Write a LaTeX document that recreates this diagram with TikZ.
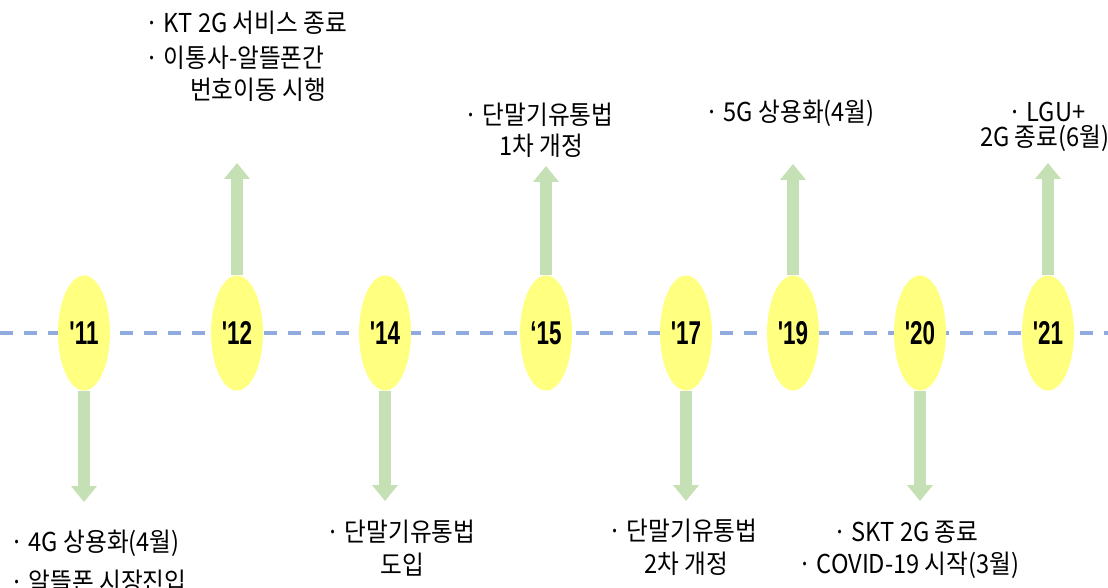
\documentclass[tikz,border=0pt]{standalone}
\usepackage{fontspec}
\usetikzlibrary{shapes.geometric,arrows.meta}
\newfontfamily\kr{Noto Sans CJK KR}[FakeStretch=0.91]
\newfontfamily\yr{Liberation Sans Bold}[FakeStretch=0.68]
\definecolor{ellfill}{RGB}{255,255,128}
\definecolor{arrgreen}{RGB}{197,224,180}
\definecolor{dashblue}{RGB}{143,170,220}
\tikzset{
  yearnode/.style={ellipse,fill=ellfill,minimum width=52pt,minimum height=115pt,inner sep=0pt,font=\yr\fontsize{33}{33}\selectfont},
  evarrow/.style={draw=arrgreen,line width=12pt,-{Triangle[width=25pt,length=16pt,fill=arrgreen]}},
  txt/.style={inner sep=0pt,font=\kr\fontsize{26}{26}\selectfont},
  timeline/.style={draw=dashblue,line width=4pt,dash pattern=on 13pt off 11pt}
}
\begin{document}
\begin{tikzpicture}[x=1pt,y=-1pt]
\useasboundingbox (0,0) rectangle (1108,588);
\coordinate (L0) at (0,333);
\coordinate (L1) at (1108,333);
\draw[timeline] (L0) -- (L1);
% years
\node[yearnode] (y11) at (84,333) {'11};
\node[yearnode] (y12) at (237,333) {'12};
\node[yearnode] (y14) at (385,333) {'14};
\node[yearnode] (y15) at (546,333) {‘15};
\node[yearnode] (y17) at (686,333) {'17};
\node[yearnode] (y19) at (793,333) {'19};
\node[yearnode] (y20) at (920,333) {'20};
\node[yearnode] (y21) at (1048,333) {'21};
% arrow ends
\coordinate (a11) at (84,502);
\coordinate (a12) at (237,163);
\coordinate (a14) at (385,501);
\coordinate (a15) at (546,166);
\coordinate (a17) at (686,501);
\coordinate (a19) at (793,164);
\coordinate (a20) at (920,501);
\coordinate (a21) at (1048,163);
\draw[evarrow] (y11.south) -- (a11);
\draw[evarrow] (y12.north) -- (a12);
\draw[evarrow] (y14.south) -- (a14);
\draw[evarrow] (y15.north) -- (a15);
\draw[evarrow] (y17.south) -- (a17);
\draw[evarrow] (y19.north) -- (a19);
\draw[evarrow] (y20.south) -- (a20);
\draw[evarrow] (y21.north) -- (a21);
% texts top
\node[txt,anchor=base west] (t12a) at (145,33) {· KT 2G 서비스 종료};
\node[txt,anchor=base west] (t12b) at (145,68) {· 이통사-알뜰폰간};
\node[txt,anchor=base west] (t12c) at (190,100) {번호이동 시행};
\node[txt,anchor=base west] (t15a) at (464,125) {· 단말기유통법};
\node[txt,anchor=base] (t15b) at (541,156) {1차 개정};
\node[txt,anchor=base west] (t19a) at (705,122) {· 5G 상용화(4월)};
\node[txt,anchor=base west] (t21a) at (1008,122) {· LGU+};
\node[txt,anchor=base west] (t21b) at (980,147) {2G 종료(6월)};
% texts bottom
\node[txt,anchor=base west] (t11a) at (10,551) {· 4G 상용화(4월)};
\node[txt,anchor=base west] (t11b) at (10,591) {· 알뜰폰 시장진입};
\node[txt,anchor=base west] (t14a) at (326,541) {· 단말기유통법};
\node[txt,anchor=base] (t14b) at (402,574) {도입};
\node[txt,anchor=base west] (t17a) at (608,540) {· 단말기유통법};
\node[txt,anchor=base] (t17b) at (686,573) {2차 개정};
\node[txt,anchor=base west] (t20a) at (833,541) {· SKT 2G 종료};
\node[txt,anchor=base west] (t20b) at (798,573) {· COVID-19 시작(3월)};
\end{tikzpicture}
\end{document}
